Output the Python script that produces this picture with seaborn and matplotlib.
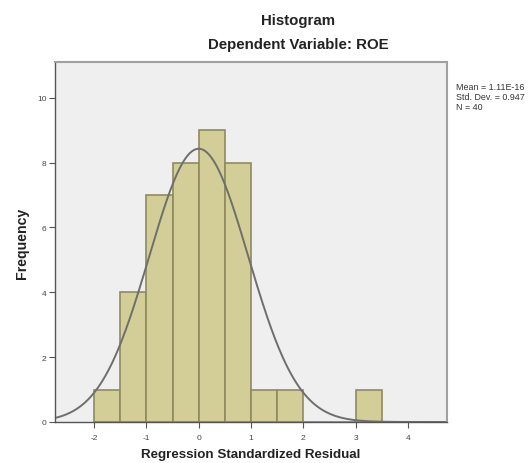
import numpy as np
import pandas as pd
import matplotlib
matplotlib.use("Agg")
import matplotlib.pyplot as plt
import seaborn as sns

# Data
bin_edges = [-2.0, -1.5, -1.0, -0.5, 0.0, 0.5, 1.0, 1.5, 2.0, 2.5, 3.0, 3.5]
counts = [1, 4, 7, 8, 9, 8, 1, 1, 0, 0, 1]
mean_val = 1.11e-16
std_dev = 0.947
n_obs = 40
x_ticks = [-2, -1, 0, 1, 2, 3, 4]
y_ticks = [0, 2, 4, 6, 8, 10]

sns.set_theme(style="white")
plt.rcParams['font.family'] = ['Liberation Sans', 'DejaVu Sans']

fig = plt.figure(figsize=(5.32, 4.64), dpi=100)
ax = fig.add_axes([55/532, 41/464, 392/532, 360/464])
ax.set_facecolor("#EFEFEF")

centers = [(a + b) / 2 for a, b in zip(bin_edges[:-1], bin_edges[1:])]
df = pd.DataFrame({"x": centers, "w": counts})
sns.histplot(data=df, x="x", weights="w", bins=bin_edges, ax=ax,
             color="#D3CE97", edgecolor="#8F8A60", linewidth=1.2, alpha=1.0)

bw = bin_edges[1] - bin_edges[0]
xs = np.linspace(-2.75, 4.75, 400)
ys = n_obs * bw * np.exp(-0.5 * ((xs - mean_val) / std_dev) ** 2) / (std_dev * np.sqrt(2 * np.pi))
sns.lineplot(x=xs, y=ys, ax=ax, color="#6E6E6E", linewidth=1.4)

ax.set_xlim(-2.75, 4.75)
ax.set_ylim(0, 11.1)
ax.set_xticks(x_ticks)
ax.set_yticks(y_ticks)
ax.set_xticklabels([str(t) for t in x_ticks], fontsize=6, color="#444444")
ax.set_yticklabels([str(t) for t in y_ticks], fontsize=6, color="#444444")
ax.tick_params(axis="both", which="both", direction="out", length=4, width=0.8,
               color="#555555", pad=2, bottom=True, left=True)
ax.tick_params(axis="x", pad=5)

for s in ["left", "bottom"]:
    ax.spines[s].set_color("#555555")
    ax.spines[s].set_linewidth(1.0)
for s in ["top", "right"]:
    ax.spines[s].set_color("#A0A0A0")
    ax.spines[s].set_linewidth(1.5)

ax.set_xlabel("Regression Standardized Residual", fontsize=9.6, fontweight="bold",
              color="#222222", labelpad=5)
ax.set_ylabel("Frequency", fontsize=10.2, fontweight="bold", color="#222222", labelpad=6)

fig.text(298/532, 1 - 21/464, "Histogram", ha="center", va="center",
         fontsize=10.8, fontweight="bold", color="#222222")
fig.text(298/532, 1 - 45/464, "Dependent Variable: ROE", ha="center", va="center",
         fontsize=10.8, fontweight="bold", color="#222222")

fig.text(456/532, 1 - 83/464,
         f"Mean = 1.11E-16\nStd. Dev. = {std_dev}\nN = {n_obs}",
         ha="left", va="top", fontsize=6.4, color="#333333", linespacing=1.15)

fig.savefig("out.png", dpi=100, facecolor="white")
